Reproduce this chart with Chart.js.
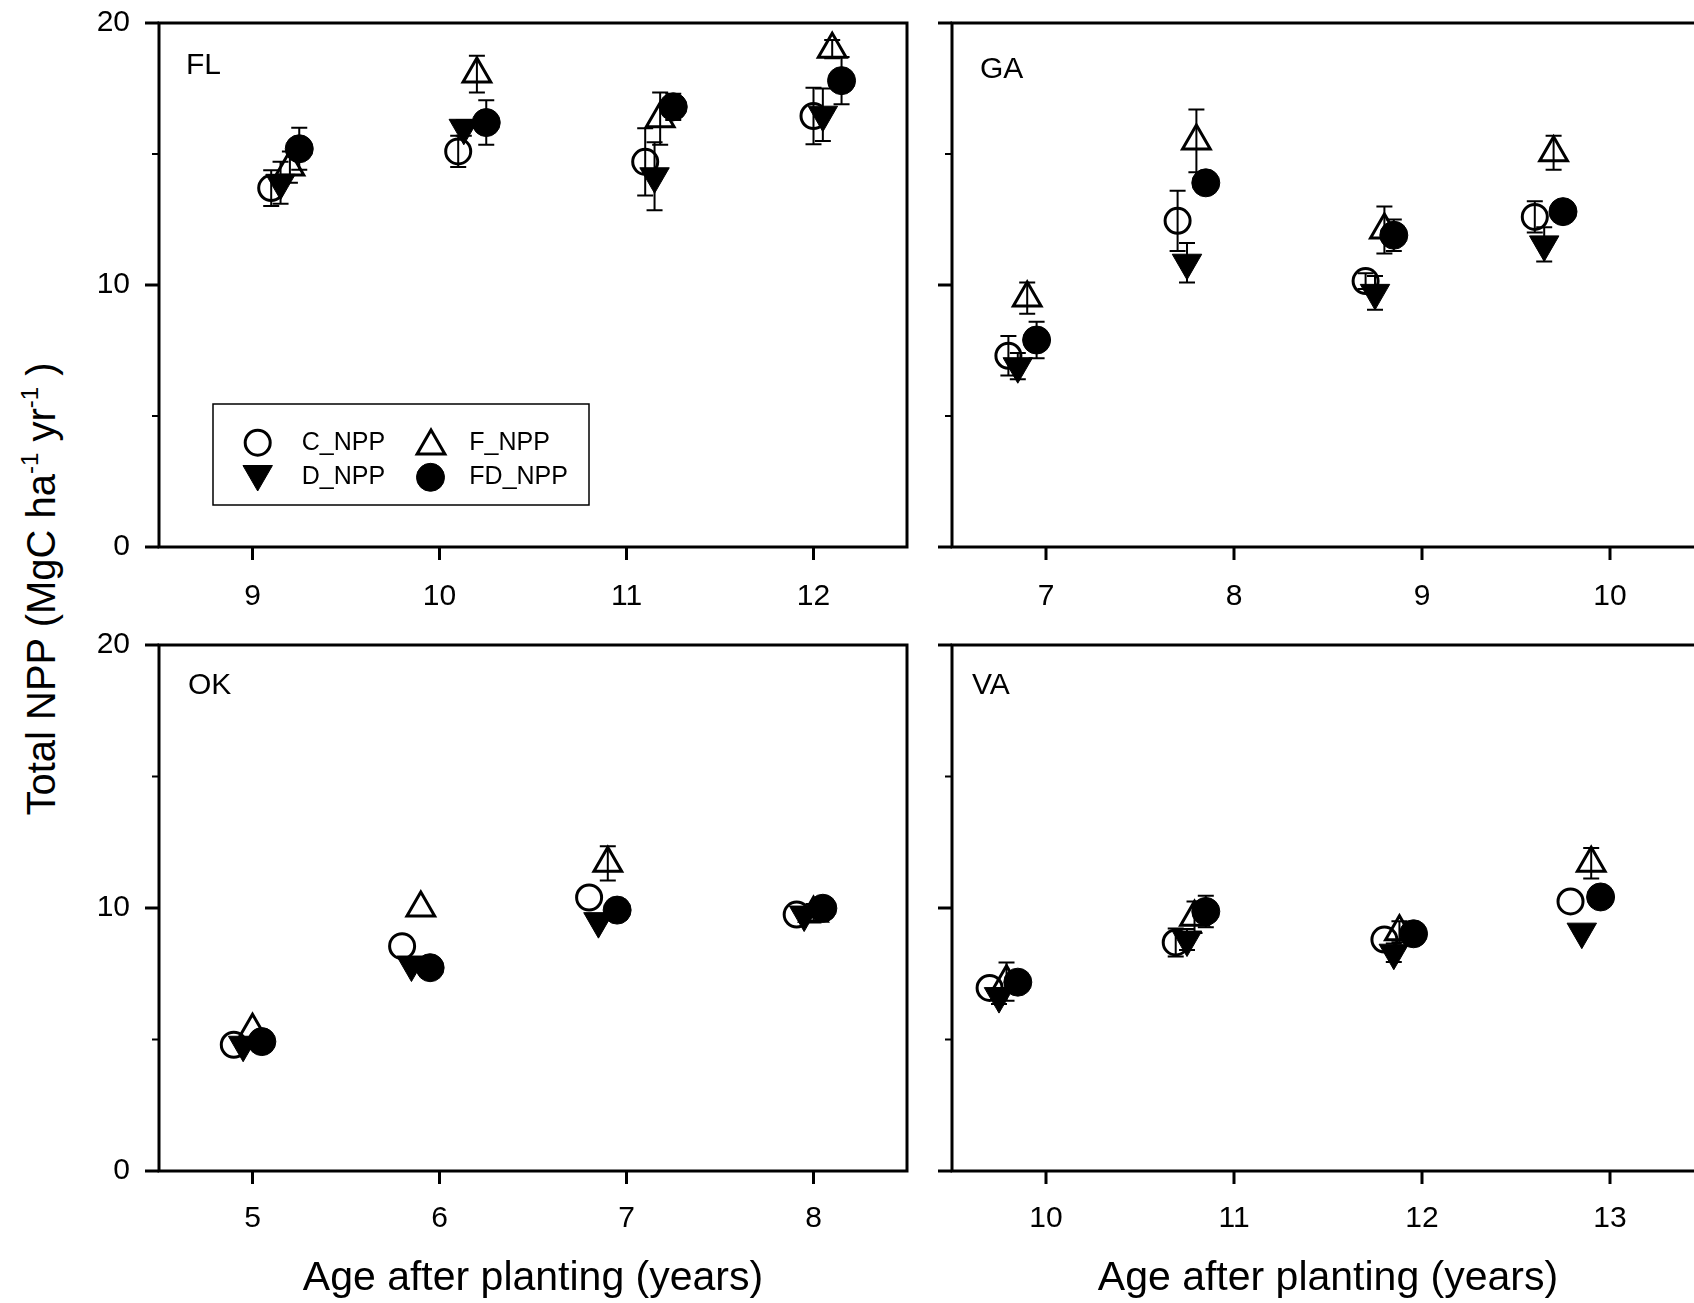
<!DOCTYPE html>
<html lang="en">
<head>
<meta charset="utf-8">
<title>Total NPP</title>
<script src="https://cdn.jsdelivr.net/npm/chart.js"></script>
<style>
    html, body { margin: 0; padding: 0; overflow: hidden; background: #fff; }
    body { width: 1694px; height: 1303px; position: relative; font-family: "Liberation Sans", Arial, sans-serif; }
    canvas { position: absolute; }
    #tituloY {
        position: absolute; left: 41px; top: 589px;
        transform: translate(-50%, -50%) rotate(-90deg);
        font-size: 40px; white-space: nowrap; color: #000;
    }
    #tituloY sup { font-size: 24px; vertical-align: 0; position: relative; top: -17px; }
</style>
</head>
<body>
<div id="tituloY">Total NPP (MgC ha<sup>-1</sup> yr<sup>-1</sup> )</div>
<canvas id="graficoFL" width="930" height="620" style="left:0;top:0"></canvas>
<canvas id="graficoGA" width="800" height="620" style="left:930px;top:0"></canvas>
<canvas id="graficoOK" width="930" height="683" style="left:0;top:620px"></canvas>
<canvas id="graficoVA" width="800" height="683" style="left:930px;top:620px"></canvas>
<script>
// ordem das linhas: C, D, F, FD
const tratamentos = ['C_NPP', 'D_NPP', 'F_NPP', 'FD_NPP'];

const idadeFL = [[9.1, 10.1, 11.1, 12.0], [9.15, 10.13, 11.15, 12.05], [9.2, 10.2, 11.18, 12.1], [9.25, 10.25, 11.25, 12.15]];
const nppFL = [[13.7, 15.1, 14.7, 16.45], [13.9, 16.0, 14.15, 16.5], [14.5, 18.05, 16.35, 19.0], [15.2, 16.2, 16.8, 17.8]];
const erroFL = [[0.68, 0.6, 1.28, 1.08], [0.8, 0.3, 1.3, 1.0], [0.6, 0.7, 1.0, 0.35], [0.8, 0.85, 0.5, 0.9]];
const anosFL = [9, 10, 11, 12];

const idadeGA = [[6.8, 7.7, 8.7, 9.6], [6.85, 7.75, 8.75, 9.65], [6.9, 7.8, 8.8, 9.7], [6.95, 7.85, 8.85, 9.75]];
const nppGA = [[7.3, 12.45, 10.15, 12.6], [6.9, 10.85, 9.7, 11.55], [9.5, 15.5, 12.1, 15.05], [7.9, 13.9, 11.9, 12.8]];
const erroGA = [[0.75, 1.15, 0.3, 0.6], [0.5, 0.75, 0.64, 0.65], [0.6, 1.2, 0.9, 0.65], [0.7, 0.4, 0.6, 0.3]];
const anosGA = [7, 8, 9, 10];

const idadeOK = [[4.9, 5.8, 6.8, 7.91], [4.95, 5.85, 6.85, 7.95], [5.0, 5.9, 6.9, 8.0], [5.05, 5.95, 6.95, 8.05]];
const nppOK = [[4.8, 8.55, 10.4, 9.75], [4.8, 7.85, 9.5, 9.75], [5.35, 10.0, 11.7, 9.8], [4.92, 7.73, 9.92, 9.99]];
const erroOK = [[0, 0, 0, 0], [0, 0, 0, 0], [0, 0, 0.65, 0.35], [0, 0, 0, 0]];
const anosOK = [5, 6, 7, 8];

const idadeVA = [[9.7, 10.69, 11.8, 12.79], [9.75, 10.75, 11.85, 12.85], [9.79, 10.79, 11.88, 12.9], [9.85, 10.85, 11.955, 12.95]];
const nppVA = [[6.96, 8.69, 8.8, 10.25], [6.65, 8.8, 8.3, 9.1], [7.2, 9.65, 9.1, 11.7], [7.18, 9.87, 9.02, 10.42]];
const erroVA = [[0, 0.53, 0, 0], [0.3, 0.4, 0.35, 0], [0.73, 0.6, 0.4, 0.58], [0.3, 0.6, 0.3, 0]];
const anosVA = [10, 11, 12, 13];

const ticksNPP = [0, 10, 20];
const ticksMenores = [5, 15];

const estilos = [
    { pointStyle: 'circle', rotation: 0, radius: 12.5, backgroundColor: 'rgba(0,0,0,0)', borderWidth: 3, order: 4 },
    { pointStyle: 'triangle', rotation: 180, radius: 17, backgroundColor: '#000', borderWidth: 1, order: 3 },
    { pointStyle: 'triangle', rotation: 0, radius: 16, backgroundColor: 'rgba(0,0,0,0)', borderWidth: 3, order: 2 },
    { pointStyle: 'circle', rotation: 0, radius: 14, backgroundColor: '#000', borderWidth: 1, order: 1 }
];

const fonteTicks = { family: '"Liberation Sans", Arial, sans-serif', size: 30 };

function montarDatasets(idades, npp, erros) {
    return tratamentos.map(function (nome, t) {
        var e = estilos[t];
        return {
            label: nome,
            data: idades[t].map(function (x, i) { return { x: x, y: npp[t][i] }; }),
            erros: erros[t],
            showLine: false,
            order: e.order,
            pointStyle: e.pointStyle,
            pointRotation: e.rotation,
            pointRadius: e.radius,
            pointHoverRadius: e.radius,
            pointBackgroundColor: e.backgroundColor,
            pointBorderColor: '#000',
            pointBorderWidth: e.borderWidth
        };
    });
}

// barras de erro, atras dos simbolos
const barrasErro = {
    id: 'barrasErro',
    beforeDatasetsDraw(chart) {
        const ctx = chart.ctx;
        const sx = chart.scales.x, sy = chart.scales.y;
        ctx.save();
        ctx.strokeStyle = '#000';
        ctx.lineWidth = 2;
        chart.data.datasets.forEach(function (ds) {
            ds.data.forEach(function (p, i) {
                var err = ds.erros[i];
                if (!err) return;
                var px = sx.getPixelForValue(p.x);
                var topo = sy.getPixelForValue(p.y + err);
                var base = sy.getPixelForValue(p.y - err);
                ctx.beginPath();
                ctx.moveTo(px, topo); ctx.lineTo(px, base);
                ctx.moveTo(px - 8, topo); ctx.lineTo(px + 8, topo);
                ctx.moveTo(px - 8, base); ctx.lineTo(px + 8, base);
                ctx.stroke();
            });
        });
        ctx.restore();
    }
};

// moldura, marcas dos eixos, rotulo do painel e legenda
const moldura = {
    id: 'moldura',
    afterDraw(chart, args, opts) {
        const ctx = chart.ctx;
        const a = chart.chartArea;
        const sx = chart.scales.x, sy = chart.scales.y;
        ctx.save();
        ctx.strokeStyle = '#000';
        ctx.lineWidth = 3;
        ctx.strokeRect(a.left, a.top, a.right - a.left, a.bottom - a.top);

        ticksNPP.concat(ticksMenores).forEach(function (v) {
            var py = sy.getPixelForValue(v);
            var maior = ticksNPP.indexOf(v) >= 0;
            ctx.lineWidth = maior ? 3 : 2;
            ctx.beginPath();
            ctx.moveTo(a.left, py);
            ctx.lineTo(a.left - (maior ? 14 : 7), py);
            ctx.stroke();
        });
        ctx.lineWidth = 3;
        sx.ticks.forEach(function (t) {
            var px = sx.getPixelForValue(t.value);
            ctx.beginPath();
            ctx.moveTo(px, a.bottom);
            ctx.lineTo(px, a.bottom + 13);
            ctx.stroke();
        });

        ctx.fillStyle = '#000';
        ctx.font = '30px "Liberation Sans", Arial, sans-serif';
        ctx.textBaseline = 'middle';
        ctx.textAlign = 'left';
        ctx.fillText(opts.rotulo, a.left + opts.dx, a.top + opts.dy);

        if (opts.legenda) {
            var bx = a.left + 54, by = a.top + 381;
            ctx.lineWidth = 1.5;
            ctx.strokeRect(bx, by, 376, 101);
            var posicoes = [[44.7, 38.7], [44.7, 70], [218, 42], [217.5, 73.3]];
            var textos = [[88.7, 38.7], [88.7, 73.3], [256.3, 38.7], [256.3, 73.3]];
            ctx.font = '25px "Liberation Sans", Arial, sans-serif';
            tratamentos.forEach(function (nome, t) {
                var e = estilos[t];
                ctx.fillStyle = e.backgroundColor;
                ctx.strokeStyle = '#000';
                ctx.lineWidth = e.borderWidth;
                Chart.helpers.drawPoint(ctx, { pointStyle: e.pointStyle, rotation: e.rotation, radius: e.radius, borderWidth: e.borderWidth }, bx + posicoes[t][0], by + posicoes[t][1]);
                ctx.fillStyle = '#000';
                ctx.fillText(nome, bx + textos[t][0], by + textos[t][1]);
            });
        }
        ctx.restore();
    }
};

function criarGrafico(id, idades, npp, erros, anos, xMin, xMax, cfg) {
    const ctx = document.getElementById(id);
    return new Chart(ctx, {
        type: 'scatter',
        data: { datasets: montarDatasets(idades, npp, erros) },
        options: {
            responsive: false,
            maintainAspectRatio: false,
            animation: false,
            events: [],
            layout: { padding: { top: cfg.topo, right: cfg.direita, left: 0, bottom: 0 } },
            plugins: {
                legend: { display: false },
                tooltip: { enabled: false },
                moldura: { rotulo: cfg.rotulo, dx: cfg.dx, dy: cfg.dy, legenda: cfg.legenda }
            },
            scales: {
                x: {
                    type: 'linear',
                    min: xMin,
                    max: xMax,
                    grid: { display: false, drawTicks: false },
                    border: { display: false },
                    ticks: { color: '#000', font: fonteTicks, padding: cfg.padX, maxRotation: 0 },
                    afterBuildTicks: function (escala) {
                        escala.ticks = anos.map(function (v) { return { value: v }; });
                    },
                    title: {
                        display: cfg.tituloX,
                        text: 'Age after planting (years)',
                        color: '#000',
                        font: { family: '"Liberation Sans", Arial, sans-serif', size: 41 },
                        padding: { top: 0, bottom: 0 }
                    },
                    afterFit: function (escala) {
                        escala.height = cfg.alturaX;
                        escala.paddingLeft = 0;
                        escala.paddingRight = 0;
                    }
                },
                y: {
                    type: 'linear',
                    min: 0,
                    max: 20,
                    grid: { display: false, drawTicks: false },
                    border: { display: false },
                    ticks: { display: cfg.rotulosY, color: '#000', font: fonteTicks, padding: 29 },
                    afterBuildTicks: function (escala) {
                        escala.ticks = ticksNPP.map(function (v) { return { value: v }; });
                    },
                    afterFit: function (escala) {
                        escala.width = cfg.larguraY;
                        escala.paddingTop = 0;
                        escala.paddingBottom = 0;
                    }
                }
            }
        },
        plugins: [barrasErro, moldura]
    });
}

criarGrafico('graficoFL', idadeFL, nppFL, erroFL, anosFL, 8.5, 12.5,
    { topo: 23, direita: 23, larguraY: 159, alturaX: 73, padX: 32, rotulosY: true, tituloX: false, rotulo: 'FL', dx: 27, dy: 43, legenda: true });
criarGrafico('graficoGA', idadeGA, nppGA, erroGA, anosGA, 6.5, 10.5,
    { topo: 23, direita: 26, larguraY: 22, alturaX: 73, padX: 32, rotulosY: false, tituloX: false, rotulo: 'GA', dx: 28, dy: 47, legenda: false });
criarGrafico('graficoOK', idadeOK, nppOK, erroOK, anosOK, 4.5, 8.5,
    { topo: 25, direita: 23, larguraY: 159, alturaX: 132, padX: 30, rotulosY: true, tituloX: true, rotulo: 'OK', dx: 29, dy: 41, legenda: false });
criarGrafico('graficoVA', idadeVA, nppVA, erroVA, anosVA, 9.5, 13.5,
    { topo: 25, direita: 26, larguraY: 22, alturaX: 132, padX: 30, rotulosY: false, tituloX: true, rotulo: 'VA', dx: 20, dy: 41, legenda: false });
</script>
</body>
</html>
